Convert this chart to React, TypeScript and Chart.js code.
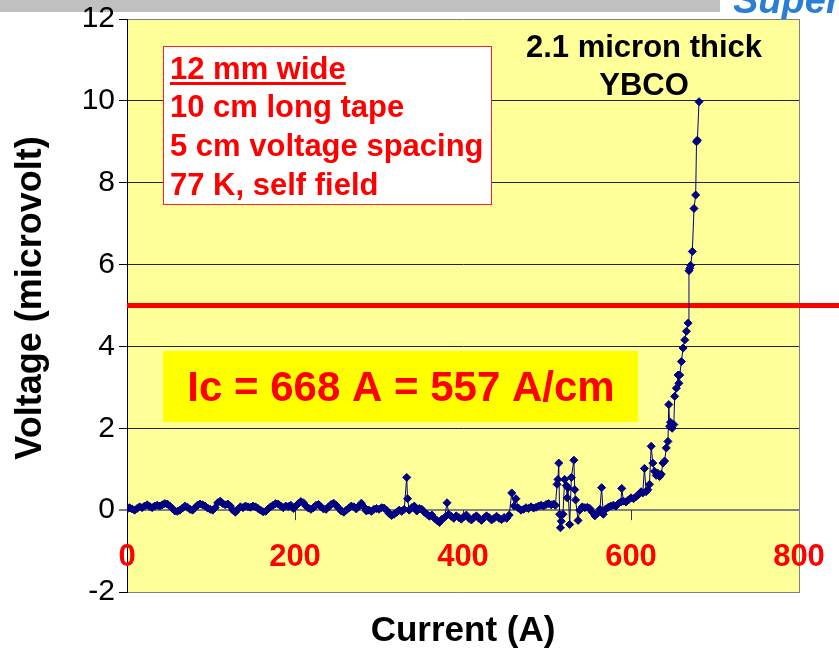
import React, { useEffect, useRef } from 'react';
import { Chart, registerables } from 'chart.js';

Chart.register(...registerables);

// ---- data ----
const currentA: number[] = [
  0, 3, 6, 9, 12, 15, 18, 21, 24, 27, 30, 33, 36, 39, 42, 45, 48, 51, 54, 57, 60, 63, 66, 69, 72, 75, 78, 81, 84, 87,
  90, 93, 96, 99, 102, 105, 108, 111, 114, 117, 120, 123, 126, 129, 132, 135, 138, 141, 144, 147, 150, 153, 156, 159, 162, 165,
  168, 171, 174, 177, 180, 183, 186, 189, 192, 195, 198, 201, 204, 207, 210, 213, 216, 219, 222, 225, 228, 231, 234, 237,
  240, 243, 246, 249, 252, 255, 258, 261, 264, 267, 270, 273, 276, 279, 282, 285, 288, 291, 294, 297, 300, 303, 306, 309,
  312, 315, 318, 321, 324, 327, 330, 333, 334, 336, 339, 342,
  345, 348, 351, 354, 357, 360, 363, 366, 369, 372, 375, 378, 381, 383, 386, 389, 392, 395, 398, 401, 404, 407, 410, 413,
  416, 419, 422, 425, 428, 431, 434, 437, 440, 443, 446, 449, 452, 455, 458, 461, 463, 466, 469, 472, 475, 478, 481, 484,
  487, 490, 493, 496, 499, 502, 505, 508, 510,
  512, 513, 514, 515, 516, 517, 519, 521, 523, 524, 525, 527, 529, 532, 533, 534, 537, 539, 542, 545, 548, 551, 554, 557,
  560, 563, 565, 567, 570, 573, 576, 579, 582, 585, 588, 589, 591, 594, 597, 600, 603, 606, 609, 612, 614, 616, 618, 620,
  622, 624, 626, 628, 630, 632, 634, 636, 638, 640, 642, 644, 645, 646, 647, 649, 651, 652, 654, 656, 657, 658, 660, 662,
  664, 666, 668, 669, 670, 671, 673, 675, 677, 678, 679, 681,
];

const voltageUV: number[] = [
  0.02, 0.06, 0.03, 0.0, 0.04, 0.08, 0.06, 0.1, 0.13, 0.09, 0.06, 0.1, 0.12, 0.1, 0.13, 0.16, 0.15, 0.1, 0.04, -0.02, -0.03, 0.0, 0.05, 0.1, 0.07, 0.02, 0.0, 0.06, 0.12, 0.15,
  0.13, 0.1, 0.05, 0.02, 0.0, 0.06, 0.18, 0.22, 0.16, 0.13, 0.15, 0.1, 0.0, -0.05, 0.02, 0.08, 0.06, 0.1, 0.08, 0.07, 0.1, 0.08, 0.04, 0.0, -0.04, -0.03,
  0.03, 0.08, 0.12, 0.16, 0.15, 0.1, 0.06, 0.1, 0.09, 0.12, 0.04, 0.1, 0.16, 0.21, 0.18, 0.1, 0.05, 0.02, 0.06, 0.12, 0.14, 0.08, 0.03, 0.02,
  0.08, 0.14, 0.17, 0.12, 0.05, -0.02, -0.05, 0.0, 0.05, 0.1, 0.08, 0.03, 0.1, 0.17, 0.08, -0.02, 0.0, -0.03, 0.02, 0.04, 0.02, 0.06, 0.05, 0.0,
  -0.08, -0.13, -0.1, -0.05, 0.0, -0.03, 0.02, 0.8, 0.28, 0.0, 0.06, 0.1,
  -0.02, 0.04, 0.02, -0.05, -0.1, -0.15, -0.12, -0.2, -0.25, -0.3, -0.22, -0.18, 0.18, -0.1, -0.15, -0.2, -0.14, -0.18, -0.22, -0.16, -0.12, -0.2, -0.24, -0.18,
  -0.14, -0.2, -0.25, -0.19, -0.14, -0.18, -0.24, -0.2, -0.15, -0.2, -0.23, -0.18, -0.2, -0.12, 0.42, 0.1, 0.28, 0.05, 0.0, 0.02, 0.06, 0.04, 0.08, 0.05,
  0.07, 0.1, 0.12, 0.1, 0.14, 0.16, 0.13, 0.15, 0.12,
  0.63, 0.75, 1.15, -0.1, -0.43, -0.27, -0.1, 0.75, 0.6, 0.3, 0.55, -0.35, 0.8, 1.22, 0.5, 0.25, -0.25, 0.0, 0.08, 0.06, 0.07, 0.04, -0.05, -0.14,
  -0.08, 0.02, 0.55, -0.1, 0.03, 0.07, 0.1, 0.12, 0.1, 0.16, 0.2, 0.53, 0.22, 0.2, 0.25, 0.3, 0.28, 0.33, 0.38, 0.45, 0.42, 1.02, 0.45, 0.5,
  0.63, 1.56, 1.15, 0.95, 0.85, 0.9, 0.82, 0.88, 1.15, 1.2, 1.52, 1.68, 2.58, 2.05, 2.15, 2.0, 2.09, 2.78, 2.98, 3.3, 3.1, 3.3, 3.63, 3.96,
  4.16, 4.37, 4.57, 5.85, 5.91, 5.98, 6.32, 7.37, 7.7, 9.0, 9.04, 9.98,
];

const xTickValues: number[] = [0, 200, 400, 600, 800];
const xTickMarks: number[] = [200, 400, 600];
const yRange: number[] = [-2, 12];
const yStep = 2;
const criterionUV = 5;
const infoLines: string[] = ['12 mm wide', '10 cm long tape', '5 cm voltage spacing', '77 K, self field'];
const sampleLines: string[] = ['2.1 micron thick', 'YBCO'];
const icLabel = 'Ic = 668 A = 557 A/cm';
const xTitle = 'Current (A)';
const yTitle = 'Voltage (microvolt)';
const logoText = 'Super';

const FONT = "'Liberation Sans', Arial, Helvetica, sans-serif";

const backgroundPlugin = {
  id: 'bg',
  beforeDraw(chart: any) {
    const { ctx, chartArea } = chart;
    ctx.save();
    ctx.fillStyle = '#ffffff';
    ctx.fillRect(0, 0, chart.width, chart.height);
    // header strip
    ctx.fillStyle = '#c0c0c0';
    ctx.fillRect(0, 0, 720, 12);
    // logo (cropped at top)
    ctx.fillStyle = '#2a7fd4';
    ctx.font = `italic bold 38px ${FONT}`;
    ctx.textAlign = 'left';
    ctx.textBaseline = 'alphabetic';
    ctx.fillText(logoText, 733, 13);
    // plot area
    ctx.fillStyle = '#ffff99';
    ctx.fillRect(chartArea.left, chartArea.top, chartArea.right - chartArea.left, chartArea.bottom - chartArea.top);
    ctx.restore();
  },
};

const underlayPlugin = {
  id: 'underlay',
  beforeDatasetsDraw(chart: any) {
    const { ctx, chartArea } = chart;
    const xs = chart.scales.x;
    const ys = chart.scales.y;
    const y0 = ys.getPixelForValue(0);
    ctx.save();
    // tick marks on the zero line
    ctx.strokeStyle = '#333333';
    ctx.lineWidth = 1;
    xTickMarks.forEach((v) => {
      const px = Math.round(xs.getPixelForValue(v)) + 0.5;
      ctx.beginPath();
      ctx.moveTo(px, y0);
      ctx.lineTo(px, y0 + 10);
      ctx.stroke();
    });
    // right border
    ctx.strokeStyle = '#808080';
    ctx.beginPath();
    ctx.moveTo(Math.round(chartArea.right) + 0.5, chartArea.top);
    ctx.lineTo(Math.round(chartArea.right) + 0.5, chartArea.bottom);
    ctx.stroke();
    // 5 microvolt criterion line
    const y5 = ys.getPixelForValue(criterionUV);
    ctx.strokeStyle = '#ff0000';
    ctx.lineWidth = 5;
    ctx.beginPath();
    ctx.moveTo(chartArea.left, y5);
    ctx.lineTo(chart.width, y5);
    ctx.stroke();
    ctx.restore();
  },
};

const overlayPlugin = {
  id: 'overlay',
  afterDraw(chart: any) {
    const { ctx } = chart;
    const xs = chart.scales.x;
    const ys = chart.scales.y;
    const y0 = ys.getPixelForValue(0);
    ctx.save();
    // y axis title
    ctx.save();
    ctx.translate(31, 298);
    ctx.rotate(-Math.PI / 2);
    ctx.fillStyle = '#000000';
    ctx.font = `bold 36px ${FONT}`;
    ctx.textAlign = 'center';
    ctx.textBaseline = 'middle';
    ctx.fillText(yTitle, 0, 0);
    ctx.restore();

    // x tick labels (red, inside the plot)
    ctx.fillStyle = '#ff0000';
    ctx.font = `bold 31px ${FONT}`;
    ctx.textAlign = 'center';
    ctx.textBaseline = 'alphabetic';
    xTickValues.forEach((v) => {
      ctx.fillText(String(v), xs.getPixelForValue(v), y0 + 56);
    });

    // info box
    ctx.fillStyle = '#ffffff';
    ctx.fillRect(163, 46, 329, 159);
    ctx.strokeStyle = '#ff2020';
    ctx.lineWidth = 1;
    ctx.strokeRect(163.5, 46.5, 328, 158);
    ctx.fillStyle = '#ff0000';
    ctx.font = `bold 31px ${FONT}`;
    ctx.textAlign = 'left';
    const baselines = [79, 117, 156, 195];
    infoLines.forEach((t, i) => {
      ctx.fillText(t, 170, baselines[i]);
      if (i === 0) {
        const w = ctx.measureText(t).width;
        ctx.fillRect(170, baselines[i] + 3, w, 3);
      }
    });

    // sample text
    ctx.fillStyle = '#000000';
    ctx.textAlign = 'center';
    ctx.fillText(sampleLines[0], 644, 57);
    ctx.fillText(sampleLines[1], 644, 95);

    // Ic box
    ctx.fillStyle = '#ffff00';
    ctx.fillRect(163, 351, 475, 71);
    ctx.fillStyle = '#ff0000';
    ctx.font = `bold 42px ${FONT}`;
    ctx.fillText(icLabel, 401, 401);
    ctx.restore();
  },
};

export default function App() {
  const ref = useRef<HTMLCanvasElement>(null);
  useEffect(() => {
    const canvas = ref.current;
    if (!canvas) return;
    const points = currentA.map((x, i) => ({ x, y: voltageUV[i] }));
    const chart = new Chart(canvas, {
      type: 'scatter',
      data: {
        datasets: [
          {
            data: points,
            showLine: true,
            borderColor: '#000080',
            borderWidth: 1,
            pointStyle: 'rectRot',
            pointRadius: 4,
            pointBackgroundColor: '#000080',
            pointBorderColor: '#000080',
            pointBorderWidth: 1,
          } as any,
        ],
      },
      options: {
        responsive: false,
        animation: false,
        events: [],
        layout: { padding: { top: 17, right: 40, left: 0, bottom: 0 } },
        plugins: { legend: { display: false }, tooltip: { enabled: false } },
        scales: {
          x: {
            type: 'linear',
            min: 0,
            max: 800,
            ticks: { display: false, stepSize: 200 },
            grid: { display: false },
            border: { display: true, color: '#808080', width: 1 },
            title: {
              display: true,
              text: xTitle,
              color: '#000000',
              font: { family: FONT, size: 35, weight: 'bold' },
              padding: { top: 0, bottom: 0 },
            },
            afterFit: (s: any) => {
              s.height = 60;
            },
          },
          y: {
            type: 'linear',
            min: yRange[0],
            max: yRange[1],
            ticks: { stepSize: yStep, color: '#000000', font: { family: FONT, size: 30, lineHeight: 1 }, padding: 4 },
            grid: {
              color: (c: any) => {
                const v = c.tick && c.tick.value;
                if (v === yRange[0] || v === yRange[1] || v === 0) return '#808080';
                return '#222222';
              },
              lineWidth: (c: any) => (c.tick && c.tick.value === 0 ? 2 : 1),
              tickColor: '#000000',
              tickWidth: 1,
              tickLength: 8,
              drawTicks: true,
            },
            border: { display: true, color: '#000000', width: 1 },
            title: { display: false, text: yTitle },
            afterFit: (s: any) => {
              s.width = 127;
            },
          },
        },
      } as any,
      plugins: [backgroundPlugin, underlayPlugin, overlayPlugin],
    });
    return () => chart.destroy();
  }, []);
  return (
    <div style={{ position: 'fixed', left: 0, top: 0, width: 839, height: 652, background: '#ffffff' }}>
      <canvas ref={ref} width={839} height={652} style={{ display: 'block', width: 839, height: 652 }} />
    </div>
  );
}
